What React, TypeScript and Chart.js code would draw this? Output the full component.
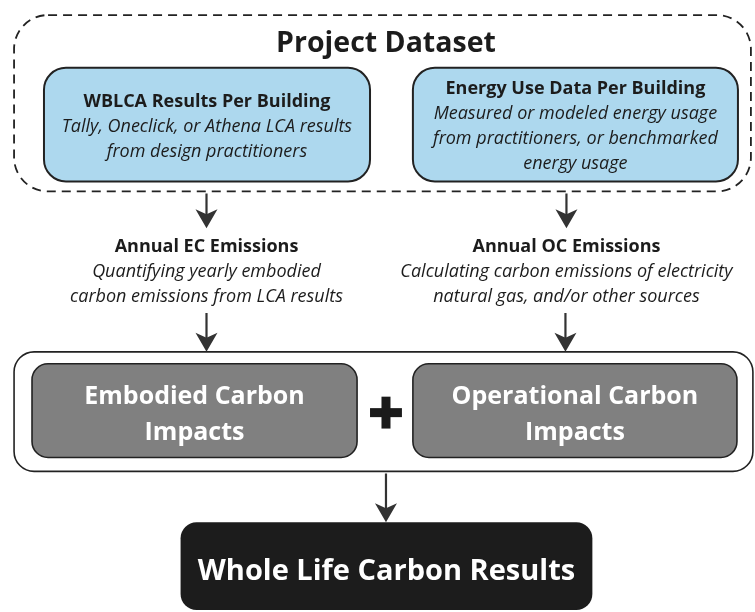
import React, { useEffect, useRef } from "react";
import { Chart, registerables } from "chart.js";

Chart.register(...registerables);

// ---- content ----
const diagramTitle = "Project Dataset";
const sourceTitles = ["WBLCA Results Per Building", "Energy Use Data Per Building"];
const sourceNotes = [
  ["Tally, Oneclick, or Athena LCA results", "from design practitioners"],
  ["Measured or modeled energy usage", "from practitioners, or benchmarked", "energy usage"],
];
const stepTitles = ["Annual EC Emissions", "Annual OC Emissions"];
const stepNotes = [
  ["Quantifying yearly embodied", "carbon emissions from LCA results"],
  ["Calculating carbon emissions of electricity", "natural gas, and/or other sources"],
];
const impactLabels = [
  ["Embodied Carbon", "Impacts"],
  ["Operational Carbon", "Impacts"],
];
const resultLabel = "Whole Life Carbon Results";

// ---- layout (diagram units, mapped through the chart's linear scales) ----
const W = 755;
const H = 612;
const LAYOUT = {
  dashed: { x1: 13, y1: 14, x2: 752, y2: 191, r: 34 },
  titleY: 43,
  titleX: 386,
  sources: [
    { x1: 43, y1: 67, x2: 370, y2: 181, r: 22 },
    { x1: 413, y1: 67, x2: 739, y2: 181, r: 22 },
  ],
  lineGap: 25,
  textShift: 2,
  stepX: [206, 567],
  stepY: 245,
  group: { x1: 13, y1: 352, x2: 754, y2: 472, r: 20 },
  impacts: [
    { x1: 31, y1: 364, x2: 357, y2: 458, r: 16 },
    { x1: 413, y1: 364, x2: 738, y2: 458, r: 16 },
  ],
  impactGap: 36,
  impactShift: 4,
  plus: { x: 386, y: 413, arm: 16, t: 9 },
  result: { x1: 180, y1: 523, x2: 593, y2: 611, r: 16 },
  resultShift: 6,
  arrows: [
    { x: 206, y1: 193, y2: 228 },
    { x: 567, y1: 193, y2: 228 },
    { x: 206, y1: 313, y2: 352 },
    { x: 566, y1: 313, y2: 352 },
    { x: 386, y1: 474, y2: 523 },
  ],
};

const FONT = '"Open Sans", "Noto Sans", sans-serif';
const INK = "#1c1c1c";
const ARROW = "#333333";

function roundRectPath(ctx: CanvasRenderingContext2D, x1: number, y1: number, x2: number, y2: number, r: number) {
  ctx.beginPath();
  ctx.moveTo(x1 + r, y1);
  ctx.lineTo(x2 - r, y1);
  ctx.arcTo(x2, y1, x2, y1 + r, r);
  ctx.lineTo(x2, y2 - r);
  ctx.arcTo(x2, y2, x2 - r, y2, r);
  ctx.lineTo(x1 + r, y2);
  ctx.arcTo(x1, y2, x1, y2 - r, r);
  ctx.lineTo(x1, y1 + r);
  ctx.arcTo(x1, y1, x1 + r, y1, r);
  ctx.closePath();
}

const flowPlugin = {
  id: "flow",
  beforeDatasetsDraw(chart: any) {
    const ctx: CanvasRenderingContext2D = chart.ctx;
    const sx = chart.scales.x;
    const sy = chart.scales.y;
    const px = (v: number) => sx.getPixelForValue(v);
    const py = (v: number) => sy.getPixelForValue(v);
    const box = (b: any, fill: string | null, stroke: string | null, lw: number, dash?: number[]) => {
      ctx.save();
      roundRectPath(ctx, px(b.x1), py(b.y1), px(b.x2), py(b.y2), b.r);
      if (fill) {
        ctx.fillStyle = fill;
        ctx.fill();
      }
      if (stroke) {
        ctx.strokeStyle = stroke;
        ctx.lineWidth = lw;
        if (dash) ctx.setLineDash(dash);
        ctx.stroke();
      }
      ctx.restore();
    };
    const text = (s: string, x: number, y: number, font: string, color: string) => {
      ctx.save();
      ctx.font = font;
      ctx.fillStyle = color;
      ctx.textAlign = "center";
      ctx.textBaseline = "middle";
      ctx.fillText(s, px(x), py(y));
      ctx.restore();
    };
    const ts = LAYOUT.textShift;

    // dashed project dataset container
    box(LAYOUT.dashed, null, "#222222", 1.8, [9, 6]);
    text(diagramTitle, LAYOUT.titleX, LAYOUT.titleY, `bold 28.5px ${FONT}`, INK);

    // source boxes
    LAYOUT.sources.forEach((b, i) => {
      box(b, "#add8ee", "#222222", 2);
      const lines = [sourceTitles[i], ...sourceNotes[i]];
      const cx = (b.x1 + b.x2) / 2;
      const cy = (b.y1 + b.y2) / 2;
      const start = cy - ((lines.length - 1) * LAYOUT.lineGap) / 2 + ts;
      lines.forEach((ln, k) => {
        text(ln, cx, start + k * LAYOUT.lineGap, k === 0 ? `bold 18px ${FONT}` : `italic 18px ${FONT}`, INK);
      });
    });

    // step descriptions
    LAYOUT.stepX.forEach((x, i) => {
      text(stepTitles[i], x, LAYOUT.stepY + ts, `bold 18px ${FONT}`, INK);
      stepNotes[i].forEach((ln, k) => {
        text(ln, x, LAYOUT.stepY + ts + (k + 1) * LAYOUT.lineGap, `italic 18px ${FONT}`, INK);
      });
    });

    // impacts group
    box(LAYOUT.group, "#ffffff", "#222222", 1.6);
    LAYOUT.impacts.forEach((b, i) => {
      box(b, "#808080", "#222222", 1.6);
      const cx = (b.x1 + b.x2) / 2;
      const cy = (b.y1 + b.y2) / 2;
      const lines = impactLabels[i];
      const gap = LAYOUT.impactGap;
      const start = cy - ((lines.length - 1) * gap) / 2 + LAYOUT.impactShift;
      lines.forEach((ln, k) => text(ln, cx, start + k * gap, `bold 25px ${FONT}`, "#ffffff"));
    });

    // plus sign
    const p = LAYOUT.plus;
    ctx.save();
    ctx.fillStyle = "#1a1a1a";
    ctx.fillRect(px(p.x - p.arm), py(p.y - p.t / 2), px(p.x + p.arm) - px(p.x - p.arm), p.t);
    ctx.fillRect(px(p.x - p.t / 2), py(p.y - p.arm), p.t, py(p.y + p.arm) - py(p.y - p.arm));
    ctx.restore();

    // result box
    const r = LAYOUT.result;
    box(r, "#1c1c1c", null, 0);
    text(resultLabel, (r.x1 + r.x2) / 2, (r.y1 + r.y2) / 2 + LAYOUT.resultShift, `bold 29px ${FONT}`, "#ffffff");
  },
  afterDatasetsDraw(chart: any) {
    const ctx: CanvasRenderingContext2D = chart.ctx;
    const sx = chart.scales.x;
    const sy = chart.scales.y;
    ctx.save();
    ctx.fillStyle = ARROW;
    LAYOUT.arrows.forEach((a) => {
      const x = sx.getPixelForValue(a.x);
      const tip = sy.getPixelForValue(a.y2);
      ctx.beginPath();
      ctx.moveTo(x, tip);
      ctx.lineTo(x - 11, tip - 19);
      ctx.lineTo(x, tip - 14);
      ctx.lineTo(x + 11, tip - 19);
      ctx.closePath();
      ctx.fill();
    });
    ctx.restore();
  },
};

export default function App() {
  const ref = useRef<HTMLCanvasElement | null>(null);
  useEffect(() => {
    if (!ref.current) return;
    const chart = new Chart(ref.current, {
      type: "scatter",
      data: {
        datasets: LAYOUT.arrows.map((a) => ({
          data: [
            { x: a.x, y: a.y1 },
            { x: a.x, y: a.y2 - 12 },
          ],
          showLine: true,
          borderColor: ARROW,
          borderWidth: 2.2,
          pointRadius: 0,
        })),
      },
      options: {
        animation: false,
        responsive: false,
        devicePixelRatio: 1,
        layout: { padding: 0 },
        events: [],
        scales: {
          x: { type: "linear", min: 0, max: W, display: false },
          y: { type: "linear", min: 0, max: H, reverse: true, display: false },
        },
        plugins: { legend: { display: false }, tooltip: { enabled: false } },
      },
      plugins: [flowPlugin],
    });
    let alive = true;
    if ((document as any).fonts) {
      Promise.all([
        (document as any).fonts.load(`bold 16px ${FONT}`),
        (document as any).fonts.load(`italic 16px ${FONT}`),
      ]).then(() => {
        if (alive) chart.update();
      }).catch(() => {});
    }
    return () => {
      alive = false;
      chart.destroy();
    };
  }, []);
  return (
    <div style={{ position: "absolute", left: 0, top: 0, width: W, height: H, background: "#ffffff" }}>
      <canvas ref={ref} width={W} height={H} style={{ width: W, height: H, display: "block" }} />
    </div>
  );
}
